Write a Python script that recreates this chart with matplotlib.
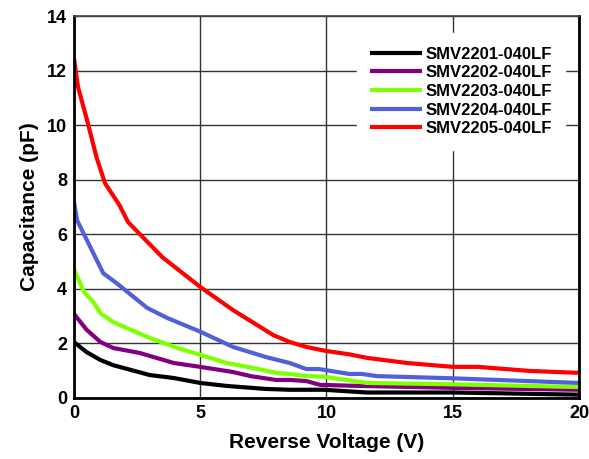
import matplotlib
matplotlib.use('Agg')
import matplotlib.pyplot as plt

plt.rcParams['font.family'] = ['Liberation Sans', 'DejaVu Sans']
plt.rcParams['font.weight'] = 'bold'

# reverse voltage (V) / capacitance (pF)
v_2201 = [0, 0.5, 1.05, 1.56, 2.4, 3.0, 3.96, 5.0, 6.05, 7.6, 8.55, 9.9, 11.6, 15, 20]
c_2201 = [2.05, 1.68, 1.39, 1.2, 0.99, 0.84, 0.73, 0.55, 0.44, 0.33, 0.3, 0.3, 0.2, 0.2, 0.12]

v_2202 = [0, 0.5, 1.05, 1.56, 2.6, 3.96, 5.0, 6.3, 7.0, 8.0, 8.55, 9.2, 9.75, 10.9, 15, 20]
c_2202 = [3.08, 2.5, 2.05, 1.83, 1.65, 1.28, 1.14, 0.95, 0.8, 0.66, 0.66, 0.62, 0.48, 0.45, 0.37, 0.3]

v_2203 = [0, 0.4, 0.8, 1.05, 1.56, 2.1, 3.0, 4.1, 5.0, 6.05, 7.1, 8.0, 8.55, 9.2, 9.9, 11.6, 15, 20]
c_2203 = [4.72, 3.88, 3.48, 3.1, 2.78, 2.56, 2.2, 1.83, 1.58, 1.28, 1.1, 0.92, 0.88, 0.8, 0.78, 0.55, 0.5, 0.4]

v_2204 = [0, 0.13, 1.16, 1.7, 2.1, 2.9, 3.7, 5.0, 6.3, 7.6, 8.55, 9.2, 9.7, 10.9, 11.4, 12.0, 15, 20]
c_2204 = [7.18, 6.5, 4.57, 4.2, 3.9, 3.3, 2.93, 2.43, 1.87, 1.5, 1.28, 1.06, 1.06, 0.88, 0.88, 0.8, 0.72, 0.55]

v_2205 = [0, 0.16, 0.55, 0.9, 1.23, 1.8, 2.14, 3.5, 5.0, 6.3, 7.9, 8.55, 9.2, 10.0, 10.9, 11.6, 13.2, 15, 16, 18.05, 20]
c_2205 = [12.45, 11.4, 10.07, 8.8, 7.87, 7.07, 6.45, 5.16, 4.07, 3.22, 2.3, 2.05, 1.87, 1.72, 1.6, 1.47, 1.28, 1.14, 1.14, 0.99, 0.92]

names = ['SMV2201-040LF', 'SMV2202-040LF', 'SMV2203-040LF', 'SMV2204-040LF', 'SMV2205-040LF']
colors = ['#000000', '#800080', '#80ff00', '#5060d8', '#ff0000']
series = [(v_2201, c_2201), (v_2202, c_2202), (v_2203, c_2203), (v_2204, c_2204), (v_2205, c_2205)]

fig = plt.figure(figsize=(5.89, 4.59), dpi=100)
ax = fig.add_axes([0.1256, 0.133, 0.8574, 0.832])

for (v, c), name, col in zip(series, names, colors):
    ax.plot(v, c, color=col, lw=3, label=name, solid_capstyle='butt')

ax.set_xlim(0, 20)
ax.set_ylim(0, 14)
ax.set_xticks([0, 5, 10, 15, 20])
ax.set_yticks(range(0, 15, 2))
ax.grid(True, color='#333333', lw=1)
ax.set_axisbelow(True)
ax.tick_params(length=0, labelsize=13, pad=5)
for side in ['left', 'bottom', 'right']:
    ax.spines[side].set_linewidth(2)
ax.spines['top'].set_linewidth(1.2)
ax.spines['top'].set_color('#444444')

ax.set_xlabel('Reverse Voltage (V)', fontsize=15, fontweight='bold', labelpad=8)
ax.set_ylabel('Capacitance (pF)', fontsize=15, fontweight='bold', labelpad=6)

leg = ax.legend(loc='upper left', bbox_to_anchor=(0.56, 0.955), borderaxespad=0,
                frameon=True, fancybox=False, edgecolor='white', facecolor='white',
                framealpha=1, fontsize=12, handlelength=3.1, handletextpad=0.2,
                labelspacing=0.22, borderpad=0.8)

fig.savefig('out.png', dpi=100)
